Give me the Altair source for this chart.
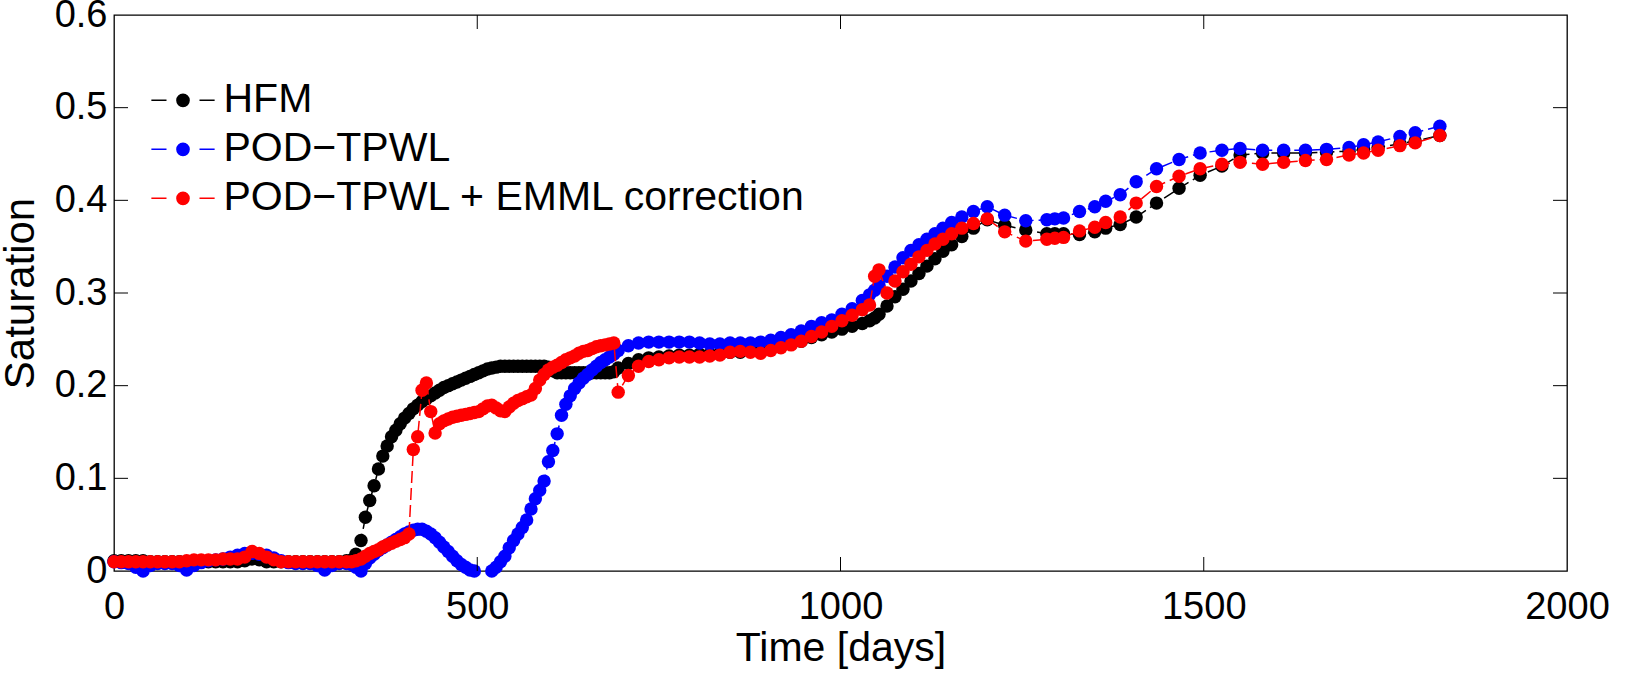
import altair as alt
import pandas as pd

# ---------------- data ----------------
time_days = [
    0, 10, 20, 30, 40, 50, 60, 70, 80, 90, 100, 110, 120, 130, 140, 150, 160, 170, 180, 190,
    200, 210, 220, 230, 240, 250, 260, 270, 280, 290, 300, 310, 320,
    327, 333, 340, 346, 352, 358, 364, 370, 376, 382, 388, 394, 400, 406, 412, 418, 424, 430,
    436, 442, 448, 454, 460, 466, 472, 478, 484, 490, 496, 502, 508, 514, 520, 526, 532, 538,
    544, 550, 556, 562, 568, 574, 580, 586, 592, 598, 604, 610, 616, 622, 628, 634, 640, 646,
    652, 658, 664, 670, 676, 682, 688,
    694, 708, 722, 736, 750, 764, 778, 792, 806, 820, 834, 848, 862, 876, 890, 904, 918, 932,
    946, 960, 974, 988, 1002, 1016, 1030, 1040, 1047, 1053, 1064, 1075, 1086, 1097, 1108, 1119,
    1130, 1141, 1153, 1167, 1183, 1202, 1226, 1255, 1284, 1295, 1307, 1329, 1350, 1365, 1385,
    1407, 1435, 1466, 1495, 1525, 1550, 1581, 1610, 1640, 1669, 1700, 1720, 1740, 1770, 1791, 1825,
]

hfm = [
    0.011, 0.011, 0.011, 0.011, 0.011, 0.010, 0.010, 0.010, 0.010, 0.010, 0.010, 0.010, 0.010,
    0.010, 0.010, 0.010, 0.010, 0.010, 0.011, 0.013, 0.012, 0.010, 0.010, 0.010, 0.010, 0.010,
    0.010, 0.010, 0.010, 0.010, 0.010, 0.010, 0.011,
    0.012, 0.018, 0.033, 0.058, 0.076, 0.092, 0.110, 0.124, 0.135, 0.145, 0.152, 0.159, 0.165,
    0.170, 0.175, 0.179, 0.183, 0.186, 0.189, 0.192, 0.195, 0.198, 0.200, 0.202, 0.204, 0.206,
    0.208, 0.210, 0.212, 0.214, 0.216, 0.218, 0.219, 0.220, 0.221, 0.221, 0.221, 0.221, 0.221,
    0.221, 0.221, 0.221, 0.221, 0.221, 0.221, 0.220, 0.216, 0.214, 0.214, 0.214, 0.214, 0.214,
    0.214, 0.214, 0.214, 0.214, 0.214, 0.214, 0.214, 0.214, 0.215,
    0.219, 0.224, 0.228, 0.230, 0.231, 0.232, 0.233, 0.233, 0.234, 0.234, 0.235, 0.236, 0.236,
    0.237, 0.238, 0.240, 0.242, 0.245, 0.248, 0.252, 0.255, 0.258, 0.261, 0.264,
    0.267, 0.270, 0.273, 0.277,
    0.286, 0.296, 0.304, 0.313, 0.321, 0.329, 0.337, 0.345,
    0.352, 0.361, 0.370, 0.379, 0.373, 0.368, 0.364, 0.364, 0.364, 0.363, 0.366, 0.370, 0.374,
    0.382, 0.397, 0.413, 0.427, 0.437, 0.449, 0.451, 0.451, 0.451, 0.452, 0.453, 0.455, 0.457,
    0.461, 0.464, 0.470,
]

pod_tpwl = [
    0.010, 0.009, 0.008, 0.004, 0.000, 0.006, 0.008, 0.008, 0.008, 0.006, 0.001, 0.006, 0.009,
    0.011, 0.012, 0.013, 0.015, 0.017, 0.019, 0.019, 0.018, 0.017, 0.014, 0.011, 0.009, 0.008,
    0.008, 0.008, 0.006, 0.001, 0.006, 0.008, 0.008,
    0.007, 0.004, 0.000, 0.008, 0.014, 0.018, 0.022, 0.025, 0.028, 0.031, 0.034, 0.037, 0.040,
    0.042, 0.044, 0.045, 0.045, 0.043, 0.040, 0.036, 0.031, 0.026, 0.021, 0.016, 0.011, 0.007,
    0.004, 0.001, 0.000, -0.004, -0.006, -0.004, 0.000, 0.004, 0.010, 0.016, 0.025, 0.033, 0.040,
    0.047, 0.055, 0.067, 0.078, 0.087, 0.097, 0.118, 0.130, 0.148, 0.168, 0.180, 0.189, 0.197,
    0.203, 0.208, 0.212, 0.217, 0.221, 0.225, 0.228, 0.231, 0.234,
    0.238, 0.243, 0.246, 0.247, 0.247, 0.247, 0.247, 0.247, 0.246, 0.245, 0.245, 0.246, 0.246,
    0.246, 0.247, 0.249, 0.252, 0.255, 0.259, 0.264, 0.268, 0.271, 0.277, 0.283,
    0.292, 0.298, 0.303, 0.308,
    0.318, 0.328, 0.338, 0.346, 0.352, 0.358, 0.364, 0.370,
    0.376, 0.382, 0.388, 0.393, 0.384, 0.378, 0.379, 0.380, 0.381, 0.388, 0.393, 0.399, 0.406,
    0.420, 0.434, 0.444, 0.451, 0.454, 0.456, 0.454, 0.454, 0.454, 0.455, 0.457, 0.460, 0.463,
    0.469, 0.473, 0.480,
]

pod_tpwl_emml = [
    0.010, 0.010, 0.010, 0.010, 0.010, 0.010, 0.010, 0.010, 0.010, 0.010, 0.011, 0.012, 0.012,
    0.012, 0.012, 0.013, 0.013, 0.013, 0.015, 0.021, 0.019, 0.015, 0.012, 0.010, 0.010, 0.010,
    0.010, 0.010, 0.010, 0.010, 0.010, 0.010, 0.010,
    0.010, 0.011, 0.013, 0.016, 0.019, 0.021, 0.023, 0.026, 0.028, 0.030, 0.032, 0.034, 0.036,
    0.040, 0.131, 0.145, 0.195, 0.203, 0.172, 0.149, 0.159, 0.162, 0.164, 0.166, 0.167, 0.168,
    0.169, 0.170, 0.171, 0.172, 0.175, 0.178, 0.179, 0.176, 0.173, 0.172, 0.177, 0.181, 0.184,
    0.186, 0.188, 0.190, 0.197, 0.206, 0.212, 0.217, 0.220, 0.222, 0.225, 0.228, 0.230, 0.232,
    0.235, 0.237, 0.238, 0.240, 0.242, 0.243, 0.244, 0.245, 0.246,
    0.193, 0.211, 0.221, 0.226, 0.228, 0.230, 0.231, 0.231, 0.231, 0.232, 0.233, 0.236, 0.237,
    0.236, 0.235, 0.238, 0.241, 0.244, 0.248, 0.253, 0.258, 0.264, 0.270, 0.276,
    0.282, 0.287, 0.318, 0.325,
    0.300, 0.313, 0.323, 0.331, 0.339, 0.346, 0.353, 0.358,
    0.364, 0.370, 0.375, 0.380, 0.366, 0.356, 0.358, 0.359, 0.360, 0.367, 0.371, 0.376, 0.382,
    0.397, 0.415, 0.426, 0.434, 0.439, 0.441, 0.439, 0.441, 0.443, 0.444, 0.449, 0.451, 0.454,
    0.459, 0.462, 0.470,
]

series_names = ["HFM", "POD\u2212TPWL", "POD\u2212TPWL + EMML correction"]
series_colors = ["#000000", "#0000ff", "#ff0000"]
x_tick_values = [0, 500, 1000, 1500, 2000]
y_tick_values = [0, 0.1, 0.2, 0.3, 0.4, 0.5, 0.6]
inner_x_ticks = [500, 1000, 1500]
inner_y_ticks = [0.1, 0.2, 0.3, 0.4, 0.5]

rows = []
for name, vals in zip(series_names, [hfm, pod_tpwl, pod_tpwl_emml]):
    for t, v in zip(time_days, vals):
        rows.append({"t": t, "s": v, "series": name})
df = pd.DataFrame(rows)

# ---------------- chart ----------------
W, H = 1453, 556
FONT = "Liberation Sans"
TICK = 14

x_scale = alt.Scale(domain=[0, 2000], nice=False, zero=False)
y_scale = alt.Scale(domain=[0, 0.6], nice=False, zero=False)
col_scale = alt.Scale(domain=series_names, range=series_colors)

x_axis = alt.Axis(values=x_tick_values, format="d", ticks=False, tickSize=0, domain=False,
                  grid=False, labelFontSize=38, labelPadding=17, labelFlush=False,
                  labelColor="black", labelFont=FONT, title="Time [days]", titleFontSize=41,
                  titleFont=FONT, titleFontWeight="normal", titleColor="black", titlePadding=2)
y_axis = alt.Axis(values=y_tick_values, format=".1~f", ticks=False, tickSize=0, domain=False,
                  grid=False, labelFontSize=38, labelPadding=7, labelColor="black",
                  labelFont=FONT, title="Saturation", titleFontSize=42, titleFont=FONT,
                  titleFontWeight="normal", titleColor="black", titlePadding=12)

SYMBOL = ("M-1.15,0L-0.6,0M0.6,0L1.15,0"
          "M0.22,0A0.22,0.22,0,1,1,-0.22,0A0.22,0.22,0,1,1,0.22,0Z")
legend = alt.Legend(orient="none", legendX=40.5, legendY=56.8, title=None,
                    symbolType=SYMBOL, symbolSize=3025, symbolStrokeWidth=1.6,
                    labelFontSize=41, labelFont=FONT, labelColor="black", labelOffset=12,
                    rowPadding=0, padding=0, labelLimit=0, symbolOpacity=1)

X = alt.X("t:Q", scale=x_scale, axis=x_axis)
Y = alt.Y("s:Q", scale=y_scale, axis=y_axis)

layers = []
for name in series_names:
    sub = df[df["series"] == name]
    line = alt.Chart(sub).mark_line(strokeWidth=1.5, strokeDash=[12, 5], clip=True).encode(
        x=X, y=Y, stroke=alt.Stroke("series:N", scale=col_scale, legend=legend))
    pts = alt.Chart(sub).mark_point(filled=True, size=180, opacity=1).encode(
        x=X, y=Y, fill=alt.Fill("series:N", scale=col_scale, legend=legend)
    ).transform_filter(alt.datum.s >= 0)
    layers += [line, pts]

xt = pd.DataFrame({"t": inner_x_ticks})
yt = pd.DataFrame({"s": inner_y_ticks})
tick_style = dict(color="black", strokeWidth=1)
layers += [
    alt.Chart(xt).mark_rule(**tick_style).encode(x=X, y=alt.value(H), y2=alt.value(H - TICK)),
    alt.Chart(xt).mark_rule(**tick_style).encode(x=X, y=alt.value(0), y2=alt.value(TICK)),
    alt.Chart(yt).mark_rule(**tick_style).encode(y=Y, x=alt.value(0), x2=alt.value(TICK)),
    alt.Chart(yt).mark_rule(**tick_style).encode(y=Y, x=alt.value(W), x2=alt.value(W - TICK)),
]

chart = alt.layer(*layers).properties(
    width=W, height=H,
    autosize=alt.AutoSizeParams(type="none"),
    padding={"left": 114, "top": 15, "right": 71, "bottom": 113},
    background="white",
).configure_view(stroke="black", strokeWidth=1.3)

chart.save("out.html", embed_options={"renderer": "svg", "actions": False})
